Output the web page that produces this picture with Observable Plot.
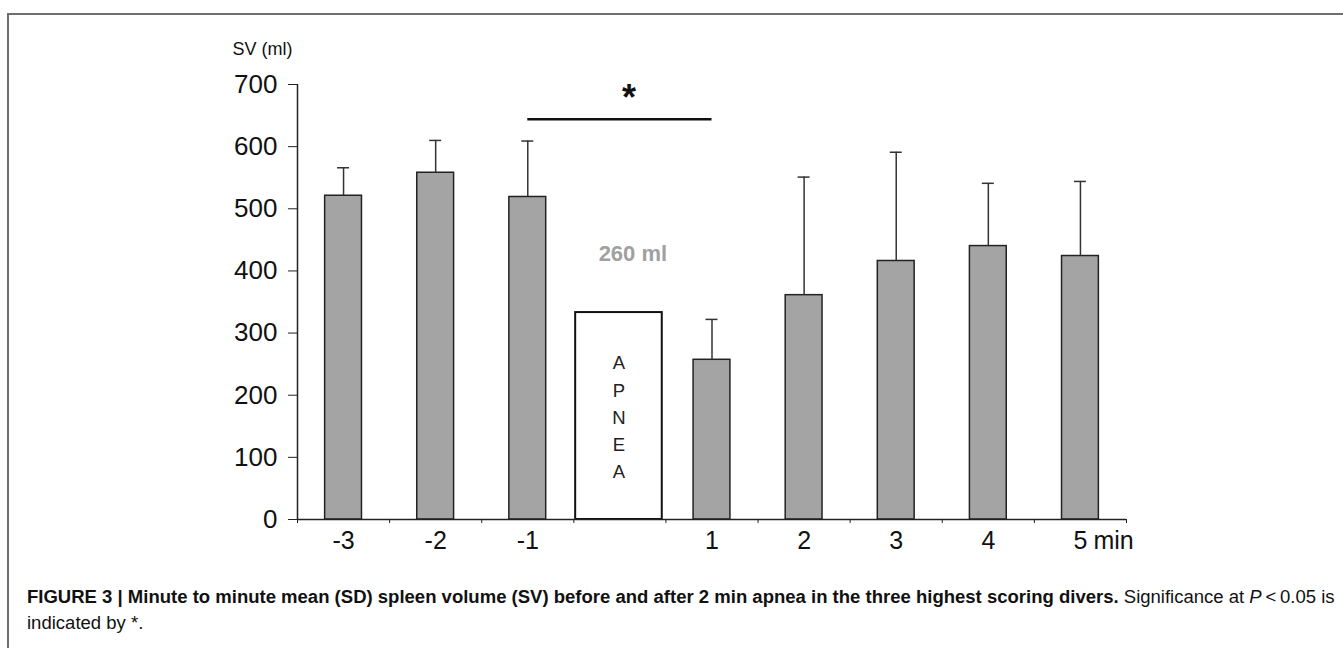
<!DOCTYPE html>
<html><head><meta charset="utf-8">
<script src="https://cdn.jsdelivr.net/npm/d3@7"></script>
<script src="https://cdn.jsdelivr.net/npm/@observablehq/plot@0.6"></script>
<style>
body{margin:0;background:#fff;font-family:"Liberation Sans",Arial,sans-serif;overflow:hidden;}
#frame{position:absolute;left:7px;top:13px;width:1400px;height:700px;border-top:2px solid #6e6e6e;border-left:2px solid #6e6e6e;}
#chart{position:absolute;left:0;top:0;}
#caption{position:absolute;left:27px;top:584px;font-size:15px;line-height:26px;color:#111;white-space:nowrap;}
</style></head><body>
<div id="frame"></div>
<div id="chart"></div>
<div id="caption"><span id="l1"><b>FIGURE 3 | Minute to minute mean (SD) spleen volume (SV) before and after 2 min apnea in the three highest scoring divers.</b> Significance at <i>P</i>&thinsp;&lt;&thinsp;0.05 is</span><br>indicated by *.</div>
<script>
// ---- data ----
const minutes = ["-3", "-2", "-1", "APNEA", "1", "2", "3", "4", "5"];
const meanSV  = [521, 558, 519, null, 257, 361, 416, 440, 424];
const sdSV    = [45, 52, 90, null, 65, 190, 175, 101, 120];
const apneaBoxValue = 333;
const yTicks = [0, 100, 200, 300, 400, 500, 600, 700];
const sigFrom = "-1", sigTo = "1", sigValue = 644, sigMark = "*", sigMarkValue = 677;
const apneaNote = "260 ml", apneaNoteValue = 428;
const apneaLetters = "A\nP\nN\nE\nA", apneaLettersValue = 168;
const yUnit = "SV (ml)", xUnit = "min";

const rows = minutes.map((m, i) => ({m, i, mean: meanSV[i], sd: sdSV[i]}));
const bars = rows.filter(d => d.mean != null);
const apnea = rows.filter(d => d.m === "APNEA");
const labels = rows.filter(d => d.m !== "APNEA");
const idx = m => minutes.indexOf(m);
const mid = (idx(sigFrom) + idx(sigTo)) / 2 + 0.5;

const ink = "#111";
const plot = Plot.plot({
  width: 1343,
  height: 570,
  marginLeft: 297,
  marginRight: 217,
  marginTop: 84,
  marginBottom: 51,
  style: {fontFamily: "'Liberation Sans', Arial, sans-serif", color: ink, background: "transparent", overflow: "visible"},
  x: {type: "linear", domain: [0, minutes.length], axis: null, label: null},
  y: {domain: [0, 700], axis: null, label: null},
  marks: [
    Plot.rect(apnea, {x1: d => d.i + 0.02, x2: d => d.i + 0.96, y1: 0, y2: apneaBoxValue, fill: "white", stroke: ink, strokeWidth: 2}),
    Plot.rect(bars, {x1: d => d.i + 0.3, x2: d => d.i + 0.7, y1: 0, y2: "mean", fill: "#a4a4a4", stroke: "#222", strokeWidth: 1.5}),
    Plot.ruleX(bars, {x: d => d.i + 0.5, y1: "mean", y2: d => d.mean + d.sd, stroke: "#333", strokeWidth: 1.5}),
    Plot.ruleY(bars, {x1: d => d.i + 0.435, x2: d => d.i + 0.565, y: d => d.mean + d.sd, stroke: "#333", strokeWidth: 1.5}),
    Plot.ruleY([0], {stroke: "#222", strokeWidth: 1.5}),
    Plot.ruleX([0], {y1: 0, y2: 700, stroke: "#222", strokeWidth: 1.5}),
    Plot.axisY(yTicks, {anchor: "left", label: null, tickSize: 9, tickPadding: 11, fontSize: 26, stroke: "#222", fill: ink}),
    Plot.axisX(d3.range(minutes.length + 1), {anchor: "bottom", label: null, tickSize: 4, tickFormat: () => "", stroke: "#222"}),
    Plot.text(labels, {x: d => d.i + 0.5, y: 0, text: "m", dy: 21, fontSize: 25, fill: ink, lineAnchor: "middle"}),
    Plot.text([xUnit], {x: minutes.length - 0.5, y: 0, text: d => d, dx: 13, dy: 21, fontSize: 25, fill: ink, textAnchor: "start", lineAnchor: "middle"}),
    Plot.ruleY([sigValue], {x1: idx(sigFrom) + 0.5, x2: idx(sigTo) + 0.5, stroke: ink, strokeWidth: 2.5}),
    Plot.text([sigMark], {x: mid, y: sigMarkValue, text: d => d, dx: 9, fontSize: 36, fontWeight: "bold", fill: ink, lineAnchor: "middle"}),
    Plot.text([apneaNote], {x: mid, y: apneaNoteValue, text: d => d, dx: 13, fontSize: 22, fontWeight: "bold", fill: "#a0a0a0", lineAnchor: "middle"}),
    Plot.text(apnea, {x: d => d.i + 0.49, y: apneaLettersValue, text: () => apneaLetters, fontSize: 18.5, lineHeight: 1.47, fill: "#222", lineAnchor: "middle"}),
    Plot.text([yUnit], {frameAnchor: "top-left", text: d => d, dx: -65, dy: -35, fontSize: 18, fill: ink, textAnchor: "start", lineAnchor: "middle"})
  ]
});
document.getElementById("chart").appendChild(plot);

// fit caption line 1 to the reference width
const l1 = document.getElementById("l1");
const cap = document.getElementById("caption");
const w = l1.getBoundingClientRect().width;
const target = 1308;
cap.style.fontSize = (15 * target / w).toFixed(2) + "px";
</script>
</body></html>
